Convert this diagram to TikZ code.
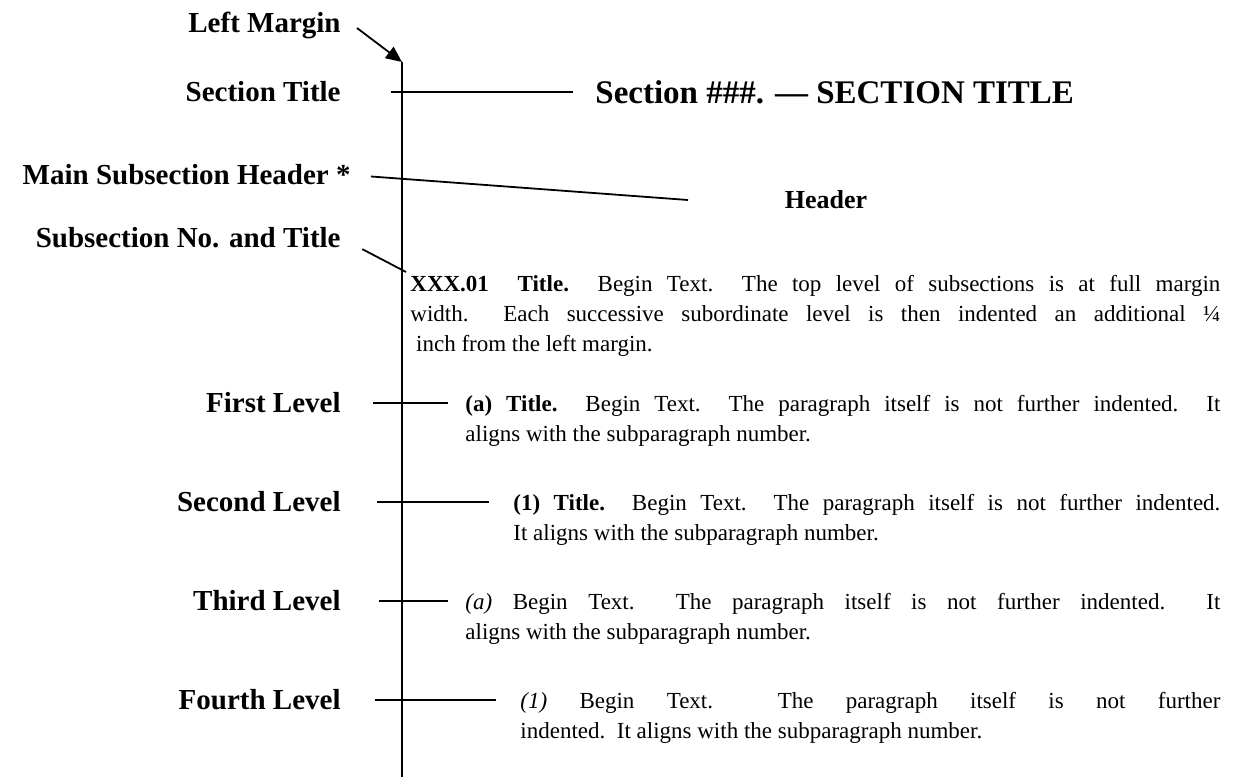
\documentclass[tikz,border=0pt]{standalone}
\usepackage{fontspec}
\setmainfont{Liberation Serif}
\usetikzlibrary{arrows.meta}

\begin{document}
\begin{tikzpicture}[x=0.5pt,y=-0.5pt]
% label and text styles
\tikzstyle{label node}=[anchor=east,inner sep=0,font=\fontsize{14.5}{17}\selectfont\bfseries]
\tikzstyle{text node}=[anchor=north west,inner sep=0,align=justify,font=\fontsize{11.5}{15}\selectfont]
\tikzset{
lead/.style={line width=0.9pt},
margin arrow/.style={lead,-{Triangle[length=8pt,width=7pt]}}
}
\useasboundingbox (0,0) rectangle (1249,782);

% the left margin
\coordinate (mtop) at (402,62);
\coordinate (mbot) at (402,777);
\draw[lead] (mtop) -- (mbot);

\node[label node] (lm) at (341,25) {Left Margin};
\node[label node] (st) at (341,92) {Section Title};
\node[label node] (msh) at (351,175) {Main Subsection Header *};
\node[label node] (snt) at (341,238) {Subsection No. and Title};
\node[label node] (lv1) at (341,403) {First Level};
\node[label node] (lv2) at (341,502) {Second Level};
\node[label node] (lv3) at (341,601) {Third Level};
\node[label node] (lv4) at (341,700) {Fourth Level};

\node[anchor=west,inner sep=0,font=\fontsize{16.5}{20}\selectfont\bfseries] (sec) at (595,92) {Section \#\#\#. --- SECTION TITLE};
\node[inner sep=0,font=\fontsize{13}{16}\selectfont\bfseries] (hdr) at (826,200) {Header};

\node[text node,text width=405pt] (p0) at (410,275) {\textbf{XXX.01\ \ Title.}\ \ Begin Text.\ \ The top level of subsections is at full margin\linebreak width.\ \ Each successive subordinate level is then indented an additional ¼\linebreak\hspace*{0.25em}inch from the left margin.};
\node[text node,text width=377.5pt] (p1) at (465,395) {\textbf{(a) Title.}\ \ Begin Text.\ \ The paragraph itself is not further indented.\ \ It\linebreak aligns with the subparagraph number.};
\node[text node,text width=353.5pt] (p2) at (513,494) {\textbf{(1) Title.}\ \ Begin Text.\ \ The paragraph itself is not further indented.\linebreak It aligns with the subparagraph number.};
\node[text node,text width=377.5pt] (p3) at (465,593) {\textit{(a)} Begin Text.\ \ The paragraph itself is not further indented.\ \ It\linebreak aligns with the subparagraph number.};
\node[text node,text width=350pt] (p4) at (520,692) {\textit{(1)} Begin Text.\ \ The paragraph itself is not further\linebreak indented.\ \ It aligns with the subparagraph number.};

% leaders
\draw[margin arrow] ([xshift=8pt,yshift=-1.5pt]lm.east) -- (mtop);
\draw[lead,shorten <=25pt,shorten >=11pt] (st.east) -- (sec.west);
\coordinate (hdrend) at (688,200);
\draw[lead,shorten <=10pt] (msh.east) -- (hdrend);
\coordinate (p0in) at (406,272);
\draw[lead,shorten <=12pt] (snt.east) -- (p0in);
\coordinate (e1) at (448,403);
\coordinate (e2) at (489,502);
\coordinate (e3) at (448,601);
\coordinate (e4) at (496,700);
\draw[lead,shorten <=16pt] (lv1.east) -- (e1);
\draw[lead,shorten <=18pt] (lv2.east) -- (e2);
\draw[lead,shorten <=19pt] (lv3.east) -- (e3);
\draw[lead,shorten <=17pt] (lv4.east) -- (e4);
\end{tikzpicture}
\end{document}
